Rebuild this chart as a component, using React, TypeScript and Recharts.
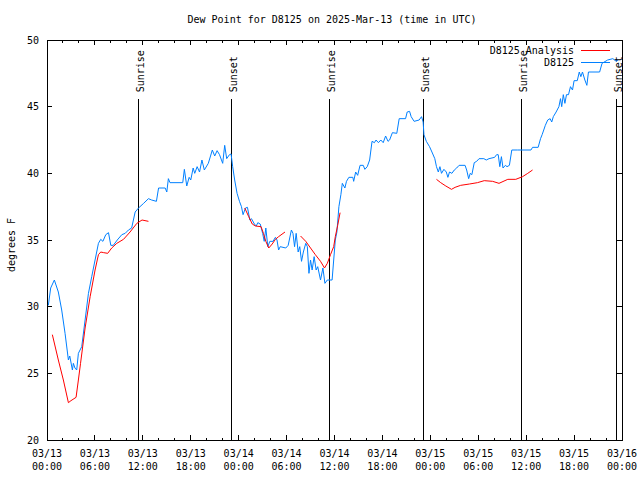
import React from 'react';
import { LineChart, Line, XAxis, YAxis, ReferenceLine, ReferenceArea, Legend } from 'recharts';

const FONT = '"DejaVu Sans Mono", "Liberation Mono", monospace';

// hours since 03/13 00:00 UTC
const blueHours = [
  0.17, 0.46, 0.92, 1.42, 1.84, 2.26, 2.68, 2.85, 3.18, 3.3, 3.5, 3.72, 3.93, 4.35, 4.77, 5.19, 5.6, 6.02, 6.44, 6.73,
  7.0, 7.36, 7.7, 7.99, 8.3, 8.8, 9.37, 9.79, 10.2, 10.6, 11.04, 11.46, 12.1, 12.7, 13.1, 13.7, 13.97, 14.8, 15.0, 15.2,
  15.4, 17.0, 17.2, 17.5, 17.8, 18.0, 18.3, 18.5, 18.8, 19.1, 19.4, 19.7, 20.2, 20.7, 21.0, 21.3, 21.6, 22.0, 22.25, 22.5,
  22.85, 23.05, 23.25, 23.5, 23.8, 24.1, 24.35, 24.55, 24.85, 25.1, 25.4, 25.6, 25.97, 26.2, 26.4, 26.7, 27.0, 27.2, 27.4, 27.65,
  27.9, 28.3, 28.6, 28.8, 29.0, 29.2, 29.9, 30.2, 30.6, 30.8, 31.0, 31.2, 31.45, 31.65, 31.87, 32.1, 32.4, 32.6, 32.8, 33.0,
  33.2, 33.45, 33.7, 33.9, 34.25, 34.55, 34.8, 35.1, 35.7, 36.1, 36.3, 36.55, 36.8, 36.98, 37.3, 37.5, 37.8, 38.3, 38.4, 38.65,
  38.9, 39.2, 39.6, 39.8, 40.1, 40.4, 40.7, 41.0, 41.2, 41.5, 41.8, 42.1, 42.4, 42.7, 42.9, 43.25, 43.8, 44.1, 44.9, 45.1,
  45.4, 45.6, 45.97, 46.6, 46.9, 47.1, 47.2, 47.5, 47.9, 48.2, 48.56, 48.77, 49.0, 49.2, 49.4, 49.7, 50.0, 50.2, 50.4, 50.7,
  51.0, 51.3, 51.6, 52.35, 52.55, 52.8, 53.0, 53.2, 53.5, 53.8, 54.1, 54.7, 55.0, 55.35, 56.05, 56.3, 56.5, 56.7, 56.9, 57.1,
  57.4, 57.6, 57.9, 58.2, 58.9, 60.6, 60.8, 61.5, 61.8, 62.0, 62.2, 62.4, 62.7, 63.0, 63.2, 63.4, 63.75, 64.1, 64.3, 64.45,
  64.65, 64.85, 65.05, 65.3, 65.55, 65.8, 66.0, 66.4, 66.65, 66.85, 67.05, 67.35, 67.6, 67.8, 69.2, 69.5, 70.2, 70.85, 71.3, 71.5,
];
const blueDewPoint = [
  30.1, 31.4, 32.0, 31.1, 29.75, 28.0, 26.0, 26.3, 25.25, 25.75, 25.4, 25.25, 26.5, 27.0, 29.0, 31.0, 32.25, 33.5, 34.75, 35.05,
  34.9, 35.4, 35.55, 34.6, 34.6, 35.0, 35.4, 35.5, 35.75, 35.9, 37.1, 37.4, 37.75, 38.1, 38.0, 37.9, 38.9, 38.9, 38.6, 39.6,
  39.3, 39.3, 40.3, 39.05, 39.7, 39.5, 40.4, 40.0, 40.5, 40.1, 41.0, 40.25, 40.75, 41.75, 41.3, 41.7, 41.4, 40.75, 42.1, 41.1,
  41.4, 41.45, 40.5, 39.5, 38.5, 37.9, 37.5, 36.9, 37.4, 37.45, 36.5, 36.6, 36.2, 36.05, 36.3, 36.2, 35.5, 34.9, 35.9, 34.5,
  34.9, 34.9, 35.2, 35.0, 34.25, 34.5, 34.4, 34.6, 35.75, 35.5, 34.5, 35.5, 34.1, 34.5, 33.4, 34.1, 34.75, 34.5, 32.5, 33.5,
  32.75, 33.75, 32.75, 33.0, 32.0, 32.9, 31.75, 32.0, 32.0, 35.0, 35.6, 37.5, 38.4, 39.25, 38.9, 39.4, 39.7, 39.7, 39.4, 40.1,
  39.85, 40.6, 40.6, 40.3, 40.5, 41.0, 42.4, 42.3, 42.5, 42.3, 42.5, 42.3, 42.8, 42.4, 42.5, 43.05, 43.0, 44.1, 44.1, 44.6,
  44.65, 44.25, 43.9, 44.0, 44.25, 43.85, 42.9, 42.4, 42.0, 41.6, 41.1, 40.5, 40.1, 40.5, 40.0, 40.3, 40.1, 39.7, 40.1, 40.0,
  40.25, 40.4, 40.6, 40.6, 40.25, 39.6, 40.0, 39.9, 40.8, 40.9, 41.1, 41.1, 41.0, 41.1, 41.2, 41.4, 41.4, 40.5, 41.25, 40.4,
  40.6, 40.5, 40.6, 41.75, 41.75, 41.75, 41.95, 41.95, 42.6, 42.9, 43.25, 43.6, 44.0, 44.1, 43.85, 44.25, 44.6, 45.0, 45.6, 45.0,
  45.9, 45.25, 45.9, 45.9, 46.5, 46.25, 46.95, 46.95, 47.6, 47.25, 47.6, 47.0, 46.6, 47.6, 47.6, 48.25, 48.5, 48.6, 48.4, 48.5,
];

const analysisHours = [
  0.67, 1.42, 2.05, 2.68, 3.0, 3.64, 3.93, 4.2, 4.77, 5.4, 6.02, 6.44, 6.73, 7.1, 7.6, 8.1, 8.74, 9.58, 10.4, 11.25, 11.9, 12.7,
  18.0,
  24.76, 25.26, 25.7, 26.1, 26.8, 27.1, 27.4, 27.77, 28.2, 28.6, 29.0, 29.8,
  30.8,
  31.75, 32.4, 33.0, 33.6, 34.25, 34.75, 35.1, 35.5, 35.9, 36.1, 36.4, 36.7,
  42.0,
  48.77, 49.3, 49.94, 50.65, 51.1, 51.8, 52.9, 53.9, 54.75, 55.8, 56.6, 57.7, 58.7, 59.55, 60.2, 60.8,
];
const analysisDewPoint: (number | null)[] = [
  27.9, 26.0, 24.5, 22.8, 22.95, 23.2, 24.5, 25.75, 28.4, 30.75, 32.75, 33.9, 34.1, 34.05, 34.0, 34.4, 34.75, 35.05, 35.6, 36.25, 36.5, 36.4,
  null,
  37.4, 36.75, 36.2, 36.05, 36.0, 35.5, 34.9, 34.4, 34.7, 35.05, 35.25, 35.6,
  null,
  35.3, 34.9, 34.4, 33.9, 33.4, 32.9, 33.25, 33.9, 34.5, 35.25, 36.1, 37.05,
  null,
  39.55, 39.3, 39.05, 38.8, 38.95, 39.1, 39.2, 39.3, 39.45, 39.4, 39.25, 39.55, 39.55, 39.75, 40.0, 40.25,
];

const xTicks = [0, 2, 4, 6, 8, 10, 12, 14, 16, 18, 20, 22, 24, 26, 28, 30, 32, 34, 36, 38, 40, 42, 44, 46, 48, 50, 52, 54, 56, 58, 60, 62, 64, 66, 68, 70, 72];
const xTickDates = ['03/13', '03/13', '03/13', '03/13', '03/14', '03/14', '03/14', '03/14', '03/15', '03/15', '03/15', '03/15', '03/16'];
const xTickTimes = ['00:00', '06:00', '12:00', '18:00', '00:00', '06:00', '12:00', '18:00', '00:00', '06:00', '12:00', '18:00', '00:00'];
const yTicks = [20, 25, 30, 35, 40, 45, 50];

const sunHours = [11.44, 23.1, 35.4, 47.2, 59.4, 71.25];
const sunLabels = ['Sunrise', 'Sunset', 'Sunrise', 'Sunset', 'Sunrise', 'Sunset'];
const sunLineTop = 45.55;

const blueData = blueHours.map((h, i) => ({ h, v: blueDewPoint[i] }));
const analysisData = analysisHours.map((h, i) => ({ h, v: analysisDewPoint[i] }));

const PLOT_W = 575;
const PLOT_H = 400;

const XTick = (props: any) => {
  const { x, y, payload } = props;
  const v = payload.value;
  const major = v % 6 === 0;
  const len = major ? 5 : 2.5;
  const idx = v / 6;
  return (
    <g>
      <line x1={x} x2={x} y1={y} y2={y - len} stroke="#000" shapeRendering="crispEdges" />
      <line x1={x} x2={x} y1={y - PLOT_H} y2={y - PLOT_H + len} stroke="#000" shapeRendering="crispEdges" />
      {major && (
        <text x={x} y={y + 17} textAnchor="middle" fontFamily={FONT} fontSize={10} fill="#000">
          {xTickDates[idx]}
        </text>
      )}
      {major && (
        <text x={x} y={y + 30} textAnchor="middle" fontFamily={FONT} fontSize={10} fill="#000">
          {xTickTimes[idx]}
        </text>
      )}
    </g>
  );
};

const YTick = (props: any) => {
  const { x, y, payload } = props;
  return (
    <g>
      <line x1={x} x2={x + 5} y1={y} y2={y} stroke="#000" shapeRendering="crispEdges" />
      <line x1={x + PLOT_W} x2={x + PLOT_W - 5} y1={y} y2={y} stroke="#000" shapeRendering="crispEdges" />
      <text x={x - 8} y={y + 3.5} textAnchor="end" fontFamily={FONT} fontSize={10} fill="#000">
        {payload.value}
      </text>
    </g>
  );
};

const sunLabel = (text: string) => (props: any) => {
  const vb = props.viewBox || {};
  const x = (vb.x ?? 0) + 2;
  const y = (vb.y ?? 0) - 7;
  return (
    <text
      x={x}
      y={y}
      transform={`rotate(-90 ${x} ${y})`}
      textAnchor="start"
      dominantBaseline="central"
      fontFamily={FONT}
      fontSize={10}
      fill="#000"
    >
      {text}
    </text>
  );
};

const LegendContent = () => (
  <svg width={200} height={30} style={{ overflow: 'visible', display: 'block' }}>
    <text x={154} y={13.5} textAnchor="end" fontFamily={FONT} fontSize={10} fill="#000">D8125 Analysis</text>
    <line x1={161} x2={190} y1={10.5} y2={10.5} stroke="#ff0000" />
    <text x={154} y={26} textAnchor="end" fontFamily={FONT} fontSize={10} fill="#000">D8125</text>
    <line x1={161} x2={190} y1={22.5} y2={22.5} stroke="#0080ff" />
  </svg>
);

export default function App() {
  return (
    <div style={{ position: 'absolute', left: 0, top: 0, width: 640, height: 480, background: '#fff' }}>
      <div
        style={{
          position: 'absolute', left: 0, top: 13, width: 664, textAlign: 'center',
          fontFamily: FONT, fontSize: 10, lineHeight: '14px', color: '#000', whiteSpace: 'pre',
        }}
      >
        Dew Point for D8125 on 2025-Mar-13 (time in UTC)
      </div>
      <div
        style={{
          position: 'absolute', left: 12, top: 245, transform: 'translate(-50%, -50%) rotate(-90deg)',
          fontFamily: FONT, fontSize: 10, lineHeight: '12px', color: '#000', whiteSpace: 'pre',
        }}
      >
        degrees F
      </div>
      <LineChart width={640} height={480} margin={{ top: 40, right: 18, bottom: 0, left: 0 }}>
        <XAxis
          dataKey="h"
          type="number"
          domain={[0, 72]}
          ticks={xTicks}
          interval={0}
          tick={XTick}
          tickLine={false}
          tickSize={0}
          tickMargin={0}
          axisLine={false}
          height={40}
          allowDataOverflow
        />
        <YAxis
          type="number"
          domain={[20, 50]}
          ticks={yTicks}
          interval={0}
          tick={YTick}
          tickLine={false}
          tickSize={0}
          tickMargin={0}
          axisLine={false}
          width={47}
          allowDataOverflow
        />
        {sunHours.map((t, i) => (
          <ReferenceLine
            key={i}
            segment={[{ x: t, y: 20 }, { x: t, y: sunLineTop }]}
            stroke="#000"
            strokeWidth={1}
            shapeRendering="crispEdges"
            ifOverflow="visible"
            label={sunLabel(sunLabels[i])}
          />
        ))}
        <Line data={blueData} dataKey="v" type="linear" stroke="#0080ff" strokeWidth={1} dot={false} isAnimationActive={false} name="D8125" />
        <Line data={analysisData} dataKey="v" type="linear" stroke="#ff0000" strokeWidth={1} dot={false} isAnimationActive={false} name="D8125 Analysis" />
        <ReferenceArea x1={0} x2={72} y1={20} y2={50} fill="none" stroke="#000" strokeWidth={1} shapeRendering="crispEdges" ifOverflow="visible" />
        <Legend
          layout="horizontal"
          verticalAlign="middle"
          align="center"
          content={LegendContent}
          wrapperStyle={{ position: 'absolute', left: 420, top: 40, width: 200, height: 30 }}
        />
      </LineChart>
    </div>
  );
}
